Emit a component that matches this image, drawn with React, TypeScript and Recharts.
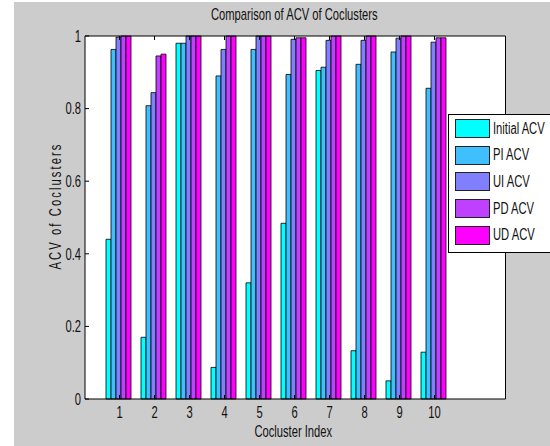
import { Bar, BarChart, CartesianGrid, Legend, XAxis, YAxis } from "recharts";

const categories = ["1", "2", "3", "4", "5", "6", "7", "8", "9", "10"];
const initialAcv = [0.44, 0.17, 0.98, 0.087, 0.32, 0.484, 0.905, 0.133, 0.05, 0.129];
const piAcv = [0.963, 0.808, 0.98, 0.89, 0.963, 0.894, 0.914, 0.922, 0.956, 0.856];
const uiAcv = [0.997, 0.844, 1, 0.963, 1, 0.991, 0.988, 0.988, 0.994, 0.983];
const pdAcv = [1, 0.945, 1, 1, 1, 0.995, 1, 1, 1, 0.995];
const udAcv = [1, 0.95, 1, 1, 1, 0.995, 1, 1, 1, 0.995];
const yTicks = [0, 0.2, 0.4, 0.6, 0.8, 1];

const series = [
  { key: "initial", name: "Initial ACV", color: "#00ffff" },
  { key: "pi", name: "PI ACV", color: "#40bfff" },
  { key: "ui", name: "UI ACV", color: "#8080ff" },
  { key: "pd", name: "PD ACV", color: "#bf40ff" },
  { key: "ud", name: "UD ACV", color: "#ff00ff" },
];

const data = categories.map((name, i) => ({
  name,
  initial: initialAcv[i],
  pi: piAcv[i],
  ui: uiAcv[i],
  pd: pdAcv[i],
  ud: udAcv[i],
}));

const FONT = '"Liberation Sans", Arial, sans-serif';
const SQUEEZE = 0.7;
const PAD = { left: 17, right: 53.5 };

function BottomTick({ x, y, payload }: any) {
  return (
    <g>
      <line x1={x} y1={y} x2={x} y2={y - 4} stroke="#000" />
      <text
        transform={`translate(${x},${y + 19}) scale(${SQUEEZE},1)`}
        textAnchor="middle"
        fontSize={16}
        fontFamily={FONT}
        fill="#111"
      >
        {payload.value}
      </text>
    </g>
  );
}

function TopTick({ x, y }: any) {
  return <line x1={x} y1={y} x2={x} y2={y + 4} stroke="#000" />;
}

function LeftTick({ x, y, payload }: any) {
  return (
    <g>
      <line x1={x} y1={y} x2={x + 4} y2={y} stroke="#000" />
      <text
        transform={`translate(${x - 4},${y}) scale(${SQUEEZE},1)`}
        textAnchor="end"
        dy="0.36em"
        fontSize={16}
        fontFamily={FONT}
        fill="#111"
      >
        {payload.value}
      </text>
    </g>
  );
}

function RightTick({ x, y }: any) {
  return <line x1={x} y1={y} x2={x - 4} y2={y} stroke="#000" />;
}

function LegendBox() {
  return (
    <div
      style={{
        width: 110,
        height: 139,
        background: "#fff",
        border: "1px solid #000",
        boxSizing: "border-box",
        position: "relative",
        fontFamily: FONT,
      }}
    >
      {series.map((s, i) => (
        <div
          key={s.key}
          style={{ position: "absolute", left: 6, top: 4 + i * 26.7, height: 19, display: "flex", alignItems: "center" }}
        >
          <div style={{ width: 35, height: 19, background: s.color, border: "1px solid #222", boxSizing: "border-box" }} />
          <span
            style={{
              marginLeft: 3,
              fontSize: 16,
              transform: `scaleX(${SQUEEZE})`,
              transformOrigin: "left center",
              whiteSpace: "nowrap",
              color: "#111",
            }}
          >
            {s.name}
          </span>
        </div>
      ))}
    </div>
  );
}

function Title({ viewBox }: any) {
  const cx = viewBox.x + viewBox.width / 2;
  return (
    <text transform={`translate(${cx - 1},20) scale(${SQUEEZE},1)`} textAnchor="middle" fontSize={16} fontFamily={FONT} fill="#111">
      Comparison of ACV of Coclusters
    </text>
  );
}

function XTitle({ viewBox }: any) {
  const cx = viewBox.x + viewBox.width / 2;
  return (
    <text transform={`translate(${cx - 2},437) scale(${SQUEEZE},1)`} textAnchor="middle" fontSize={16} fontFamily={FONT} fill="#111">
      Cocluster Index
    </text>
  );
}

function YTitle() {
  return (
    <text
      transform={`translate(61,206) rotate(-90) scale(${SQUEEZE},1)`}
      textAnchor="middle"
      fontSize={16}
      letterSpacing={3}
      fontFamily={FONT}
      fill="#111"
    >
      ACV of Coclusters
    </text>
  );
}

export default function App() {
  return (
    <div style={{ position: "absolute", left: 0, top: 0, width: 550, height: 446, background: "#fff", overflow: "hidden" }}>
      <div style={{ position: "absolute", left: 14, top: 2, right: 0, bottom: 0, background: "#cccccc" }} />
      <div style={{ position: "absolute", left: 0, top: 0 }}>
        <BarChart
          width={550}
          height={446}
          data={data}
          margin={{ top: 35, right: 43.5, bottom: 46, left: 84 }}
          barCategoryGap={4}
          barGap={0}
        >
          <CartesianGrid fill="#fff" horizontal={false} vertical={false} />
          <XAxis
            dataKey="name"
            height={1}
            padding={PAD}
            tickSize={0}
            tickMargin={0}
            tick={<BottomTick />}
            axisLine={{ stroke: "#000" }}
            tickLine={false}
            interval={0}
            label={<XTitle />}
          />
          <XAxis
            xAxisId="t"
            orientation="top"
            dataKey="name"
            height={1}
            padding={PAD}
            tickSize={0}
            tickMargin={0}
            tick={<TopTick />}
            axisLine={{ stroke: "#000" }}
            tickLine={false}
            interval={0}
            label={<Title />}
          />
          <YAxis
            width={1}
            domain={[0, 1]}
            ticks={yTicks}
            tickSize={0}
            tickMargin={0}
            tick={<LeftTick />}
            axisLine={{ stroke: "#000" }}
            tickLine={false}
            label={<YTitle />}
          />
          <YAxis
            yAxisId="r"
            orientation="right"
            width={1}
            domain={[0, 1]}
            ticks={yTicks}
            tickSize={0}
            tickMargin={0}
            tick={<RightTick />}
            axisLine={{ stroke: "#000" }}
            tickLine={false}
          />
          <Legend
            layout="vertical"
            align="center"
            verticalAlign="middle"
            wrapperStyle={{ left: 448, top: 114, width: 110, height: 139 }}
            content={<LegendBox />}
          />
          {series.map((s) => (
            <Bar
              key={s.key}
              dataKey={s.key}
              name={s.name}
              fill={s.color}
              stroke="#000"
              strokeWidth={0.8}
              isAnimationActive={false}
            />
          ))}
        </BarChart>
      </div>
    </div>
  );
}
